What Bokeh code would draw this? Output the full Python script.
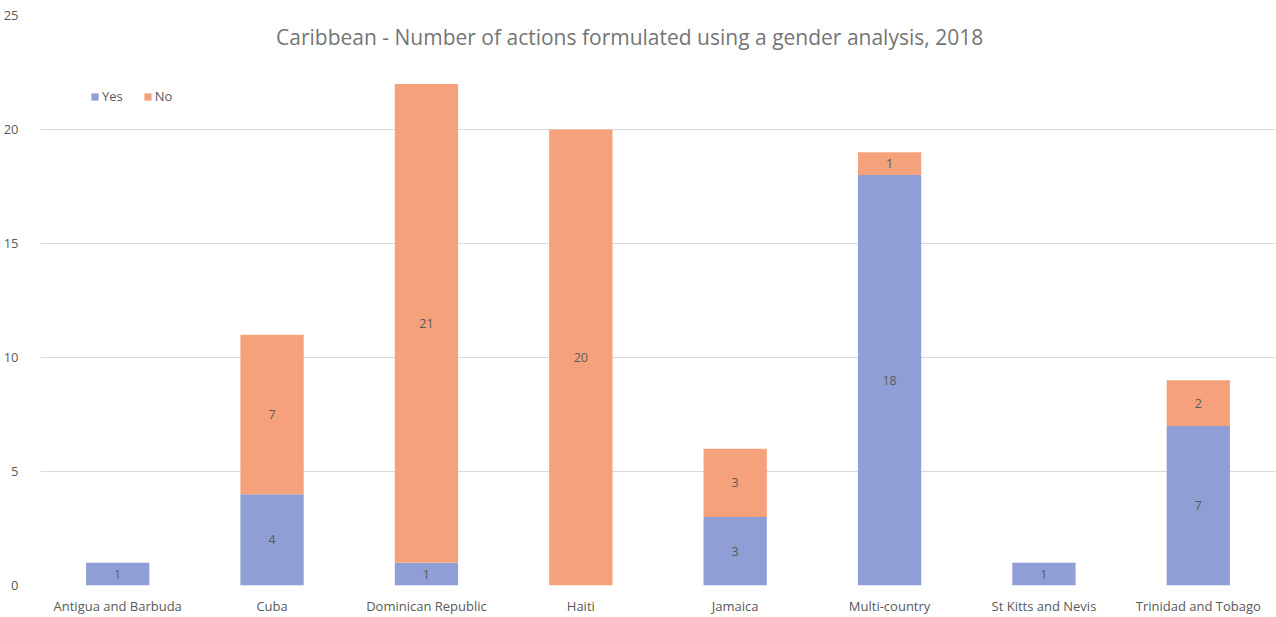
from bokeh.plotting import figure
from bokeh.models import ColumnDataSource, FactorRange, Range1d, Label, FixedTicker
from bokeh.core.properties import value
from bokeh.embed import file_html
from bokeh.resources import INLINE

countries = ["Antigua and Barbuda", "Cuba", "Dominican Republic", "Haiti",
             "Jamaica", "Multi-country", "St Kitts and Nevis", "Trinidad and Tobago"]
yes_vals = [1, 4, 1, 0, 3, 18, 1, 7]
no_vals = [0, 7, 21, 20, 3, 1, 0, 2]
series = ["Yes", "No"]
colors = ["#8F9FD6", "#F5A27C"]
title_text = "Caribbean - Number of actions formulated using a gender analysis, 2018"
FONT = "Open Sans"

src = ColumnDataSource(dict(country=countries, Yes=yes_vals, No=no_vals))

p = figure(x_range=FactorRange(*countries), y_range=Range1d(0, 25),
           width=1276, height=617, output_backend="svg", toolbar_location=None,
           min_border_left=38, min_border_right=1, min_border_top=15, min_border_bottom=0)
p.outline_line_color = None

p.vbar_stack(series, x="country", width=0.41, source=src, color=colors,
             line_color=None, legend_label=series)

# data labels
lx, ly, lt = [], [], []
for c, y, n in zip(countries, yes_vals, no_vals):
    if y > 0:
        lx.append(c); ly.append(y / 2); lt.append(str(y))
    if n > 0:
        lx.append(c); ly.append(y + n / 2); lt.append(str(n))
p.text(x=lx, y=ly, text=lt, text_align="center", text_baseline="middle",
       text_font=value(FONT), text_font_size="12.5px", text_color="#5A5A5A")

# axes
p.yaxis.ticker = FixedTicker(ticks=[0, 5, 10, 15, 20, 25])
for ax in (p.xaxis, p.yaxis):
    ax.axis_line_color = None
    ax.major_tick_line_color = None
    ax.minor_tick_line_color = None
    ax.major_label_text_font = FONT
    ax.major_label_text_font_size = "13px"
    ax.major_label_text_color = "#595959"
p.yaxis.major_label_standoff = 16
p.xaxis.major_label_standoff = 5
p.xgrid.grid_line_color = None
p.ygrid.grid_line_color = "#D9D9D9"
p.ygrid.grid_line_width = 1

# title inside plot area
p.add_layout(Label(x=3.816, y=24.04, text=title_text, text_align="center",
                   text_baseline="middle", text_font=FONT, text_font_size="21px",
                   text_color="#757575"))

# legend
lg = p.legend[0]
lg.orientation = "horizontal"
lg.location = (50, 480)
lg.border_line_color = None
lg.background_fill_alpha = 0
lg.padding = 0
lg.spacing = 20
lg.label_standoff = 3
lg.glyph_width = 9
lg.glyph_height = 9
lg.label_text_font = FONT
lg.label_text_font_size = "13px"
lg.label_text_color = "#595959"

open("out.html", "w").write(file_html(p, INLINE))
